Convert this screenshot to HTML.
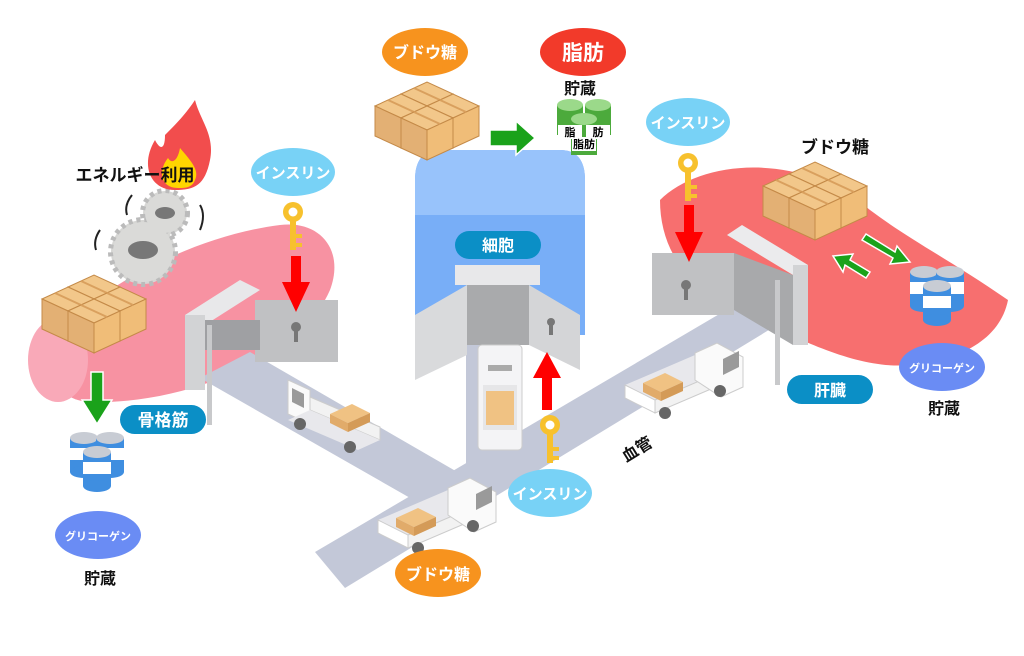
<!DOCTYPE html>
<html><head><meta charset="utf-8"><style>
html,body{margin:0;padding:0;background:#fff;}
svg{display:block;}
text{font-family:"Liberation Sans","Noto Sans CJK JP",sans-serif;font-weight:bold;}
</style></head><body>
<svg width="1024" height="656" viewBox="0 0 1024 656" xmlns="http://www.w3.org/2000/svg">
<defs>
<g id="box" stroke="#c48a48" stroke-width="1">
 <polygon points="0,12 26,0 52,12 26,24" fill="#f2c78a"/>
 <polygon points="0,12 26,24 26,54 0,42" fill="#e3b074"/>
 <polygon points="26,24 52,12 52,42 26,54" fill="#f0bd78"/>
 <line x1="13" y1="6" x2="39" y2="18" stroke="#d9a05e" stroke-width="2"/>
</g>
<g id="boxes">
 <use href="#box" x="26" y="0"/><use href="#box" x="52" y="12"/>
 <use href="#box" x="0" y="12"/><use href="#box" x="26" y="24"/>
</g>
<g id="barrel">
 <rect x="0" y="6" width="28" height="34" fill="#3f8ee0"/>
 <rect x="0" y="16" width="28" height="12" fill="#fff"/>
 <ellipse cx="14" cy="40" rx="14" ry="6" fill="#3f8ee0"/>
 <ellipse cx="14" cy="6" rx="14" ry="6" fill="#c8ccd4"/>
</g>
<g id="barrels">
 <use href="#barrel" x="0" y="0"/><use href="#barrel" x="26" y="0"/><use href="#barrel" x="13" y="14"/>
</g>
<g id="key">
 <circle cx="0" cy="0" r="10" fill="#f7c12d"/><circle cx="0" cy="0" r="4.5" fill="#fff"/>
 <rect x="-3" y="8" width="6" height="30" fill="#f7c12d"/>
 <rect x="3" y="22" width="6" height="4" fill="#f7c12d"/><rect x="3" y="31" width="6" height="4" fill="#f7c12d"/>
</g>
<g id="truck">
 <polygon points="0,20 70,-10 100,5 30,35" fill="#e8e8ec"/>
 <polygon points="0,20 30,35 30,48 0,33" fill="#fff" stroke="#ccc"/>
 <polygon points="30,35 100,5 100,18 30,48" fill="#f2f2f2" stroke="#ccc"/>
 <polygon points="18,18 40,8 58,17 36,27" fill="#f0c283"/>
 <polygon points="18,18 36,27 36,36 18,27" fill="#e1ab6a"/>
 <polygon points="36,27 58,17 58,26 36,36" fill="#d49b58"/>
 <polygon points="70,-12 92,-22 118,-8 118,22 96,32 70,15" fill="#fafafa" stroke="#ccc"/>
 <polygon points="98,-6 114,-14 114,2 98,10" fill="#9a9a9a"/>
 <circle cx="40" cy="48" r="6" fill="#666"/><circle cx="95" cy="26" r="6" fill="#666"/>
</g>
<g id="truckL">
 <polygon points="0,-22 22,-12 22,22 0,12" fill="#fafafa" stroke="#ccc"/>
 <polygon points="4,-14 16,-8 16,6 4,0" fill="#9a9a9a"/>
 <polygon points="22,-5 92,25 92,38 22,8" fill="#f2f2f2" stroke="#ccc"/>
 <polygon points="22,8 92,38 70,48 0,18" fill="#e8e8ec"/>
 <polygon points="42,12 64,2 82,11 60,21" fill="#f0c283"/>
 <polygon points="42,12 60,21 60,30 42,21" fill="#e1ab6a"/>
 <polygon points="60,21 82,11 82,20 60,30" fill="#d49b58"/>
 <circle cx="12" cy="22" r="6" fill="#666"/><circle cx="62" cy="45" r="6" fill="#666"/>
</g>
</defs>

<path d="M60,330 C40,360 50,400 90,402 C180,405 300,360 330,290 C345,250 320,220 280,225 C200,235 110,280 60,330Z" fill="#f792a2"/>
<ellipse cx="58" cy="360" rx="30" ry="42" fill="#f9a9b8"/>
<path d="M660,200 C700,160 800,150 870,210 C910,240 950,260 1008,300 C1000,340 960,360 910,365 C860,370 800,340 760,320 C700,300 660,260 660,200Z" fill="#f76f6f"/>
<path d="M415,180 Q415,150 440,150 L560,150 Q585,150 585,180 L585,335 L415,335Z" fill="#78aef7"/>
<path d="M415,180 Q415,150 440,150 L560,150 Q585,150 585,180 L585,215 L415,215Z" fill="#98c3fb"/>

<polygon points="315,552 750,296 782,322 345,588" fill="#c3c8d8"/>
<polygon points="200,378 250,352 485,488 440,515" fill="#c3c8d8"/>
<polygon points="466,340 518,340 518,470 466,495" fill="#c3c8d8"/>

<rect x="255" y="300" width="83" height="62" fill="#c0c1c3"/>
<polygon points="185,315 240,280 260,290 205,325" fill="#e8e8ea"/>
<rect x="185" y="315" width="20" height="75" fill="#d2d3d5"/>
<rect x="205" y="320" width="55" height="30" fill="#9fa0a3"/>
<rect x="207" y="325" width="5" height="100" fill="#c8c9cb"/>
<circle cx="296" cy="327" r="5" fill="#777"/><rect x="294" y="328" width="4" height="14" fill="#777"/>
<rect x="455" y="265" width="85" height="20" fill="#e8e8ea"/>
<rect x="467" y="285" width="62" height="60" fill="#a9aaac"/>
<polygon points="415,315 467,285 467,355 415,380" fill="#d9dadc"/>
<polygon points="529,285 580,315 580,370 529,345" fill="#d4d5d7"/>
<circle cx="551" cy="322" r="4" fill="#777"/><rect x="549" y="323" width="4" height="12" fill="#777"/>
<rect x="652" y="253" width="82" height="62" fill="#c0c1c3"/>
<polygon points="727,235 742,225 808,265 793,275" fill="#ebebed"/>
<polygon points="734,253 793,275 793,345 734,310" fill="#a8a9ab"/>
<rect x="793" y="265" width="15" height="80" fill="#d2d3d5"/>
<rect x="775" y="280" width="5" height="105" fill="#c8c9cb"/>
<circle cx="686" cy="285" r="5" fill="#777"/><rect x="684" y="286" width="4" height="14" fill="#777"/>

<use href="#truck" transform="translate(378,500)"/>
<use href="#truck" transform="translate(625,365)"/>
<use href="#truckL" transform="translate(288,402)"/>
<g transform="translate(478,345)">
 <rect x="0" y="0" width="44" height="105" rx="4" fill="#f4f4f6" stroke="#ccc"/>
 <rect x="10" y="20" width="24" height="6" fill="#aaa"/>
 <rect x="5" y="40" width="34" height="45" fill="#e6e6e8"/>
 <rect x="8" y="46" width="28" height="34" fill="#f0c283"/>
</g>

<use href="#boxes" transform="translate(42,275)"/>
<use href="#boxes" transform="translate(375,82)"/>
<use href="#boxes" transform="translate(763,162)"/>
<use href="#barrels" transform="translate(70,432)"/>
<use href="#barrels" transform="translate(910,266)"/>
<g transform="translate(557,97)">
 <g fill="#4caa3c"><rect x="0" y="8" width="26" height="30"/><rect x="28" y="8" width="26" height="30"/><rect x="14" y="22" width="26" height="36"/></g>
 <g fill="#9bd98a"><ellipse cx="13" cy="8" rx="13" ry="6"/><ellipse cx="41" cy="8" rx="13" ry="6"/><ellipse cx="27" cy="22" rx="13" ry="6"/></g>
 <rect x="1" y="28" width="24" height="14" fill="#fff"/><rect x="29" y="28" width="24" height="14" fill="#fff"/><rect x="15" y="40" width="24" height="14" fill="#fff"/>
 <text x="13" y="39" font-size="11" text-anchor="middle">脂</text><text x="41" y="39" font-size="11" text-anchor="middle">肪</text><text x="27" y="51" font-size="11" text-anchor="middle">脂肪</text>
</g>

<g fill="#d6d6d4" stroke="#bbb" stroke-width="6" stroke-dasharray="4 4">
<circle cx="165" cy="213" r="22"/><circle cx="143" cy="252" r="32"/></g>
<circle cx="165" cy="213" r="20" fill="#dadad8"/><ellipse cx="165" cy="213" rx="10" ry="6" fill="#777"/>
<circle cx="143" cy="252" r="30" fill="#dadad8"/><ellipse cx="143" cy="250" rx="15" ry="9" fill="#777"/>
<path d="M132,195 Q124,205 127,215" stroke="#222" stroke-width="2" fill="none"/>
<path d="M200,205 Q206,215 200,230" stroke="#222" stroke-width="2" fill="none"/>
<path d="M100,230 Q93,240 96,250" stroke="#222" stroke-width="2" fill="none"/>
<path d="M175,190 C150,190 140,165 155,140 C160,150 165,150 165,135 C175,125 185,115 195,100 C200,120 215,135 210,160 C205,185 195,190 175,190Z" fill="#f24d4d"/>
<path d="M178,188 C160,188 158,170 168,158 C172,165 178,160 180,148 C190,160 200,170 195,180 C192,188 185,188 178,188Z" fill="#ffd500"/>

<use href="#key" transform="translate(293,212)"/>
<use href="#key" transform="translate(688,163)"/>
<use href="#key" transform="translate(550,425)"/>
<g fill="#f00">
<rect x="291" y="256" width="10" height="28"/><polygon points="282,282 310,282 296,312"/>
<rect x="684" y="205" width="10" height="30"/><polygon points="675,232 703,232 689,262"/>
<rect x="542" y="375" width="10" height="35"/><polygon points="533,378 561,378 547,352"/>
</g>
<g fill="#1aa21a" stroke="#fff" stroke-width="1.5">
<polygon points="490,130 516,130 516,121 535,138 516,155 516,146 490,146"/>
<polygon points="91,372 103,372 103,400 112,400 97,424 82,400 91,400"/>
<polygon points="862,240 866,234 895,252 897,246 910,262 890,264 893,258"/>
<polygon points="870,272 866,278 845,265 843,272 833,256 853,254 850,260"/>
</g>

<g font-size="15" fill="#fff" text-anchor="middle">
<ellipse cx="293" cy="172" rx="42" ry="24" fill="#78d2f6"/><text x="293" y="178">インスリン</text>
<ellipse cx="688" cy="122" rx="42" ry="24" fill="#78d2f6"/><text x="688" y="128">インスリン</text>
<ellipse cx="550" cy="493" rx="42" ry="24" fill="#78d2f6"/><text x="550" y="499">インスリン</text>
<ellipse cx="425" cy="52" rx="43" ry="24" fill="#f7931e"/><text x="425" y="58" font-size="16">ブドウ糖</text>
<ellipse cx="438" cy="573" rx="43" ry="24" fill="#f7931e"/><text x="438" y="580" font-size="16">ブドウ糖</text>
<ellipse cx="583" cy="52" rx="43" ry="24" fill="#f23a2a"/><text x="583" y="60" font-size="21">脂肪</text>
<ellipse cx="98" cy="535" rx="43" ry="24" fill="#6a8cf4"/><text x="98" y="540" font-size="11">グリコーゲン</text>
<ellipse cx="942" cy="367" rx="43" ry="24" fill="#6a8cf4"/><text x="942" y="372" font-size="11">グリコーゲン</text>
<rect x="120" y="405" width="86" height="29" rx="14.5" fill="#0b8fc6"/><text x="163" y="426" font-size="17">骨格筋</text>
<rect x="455" y="231" width="86" height="28" rx="14" fill="#0b8fc6"/><text x="498" y="251" font-size="16">細胞</text>
<rect x="787" y="375" width="86" height="29" rx="14.5" fill="#0b8fc6"/><text x="830" y="396" font-size="16">肝臓</text>
</g>
<g font-size="16" fill="#111" text-anchor="middle">
<text x="135" y="181" font-size="17">エネルギー利用</text>
<text x="835" y="153" font-size="17">ブドウ糖</text>
<text x="100" y="584">貯蔵</text>
<text x="580" y="94">貯蔵</text>
<text x="944" y="414">貯蔵</text>
<text x="0" y="0" transform="translate(640,454) rotate(-32)">血管</text>
</g>
</svg>
</body></html>
